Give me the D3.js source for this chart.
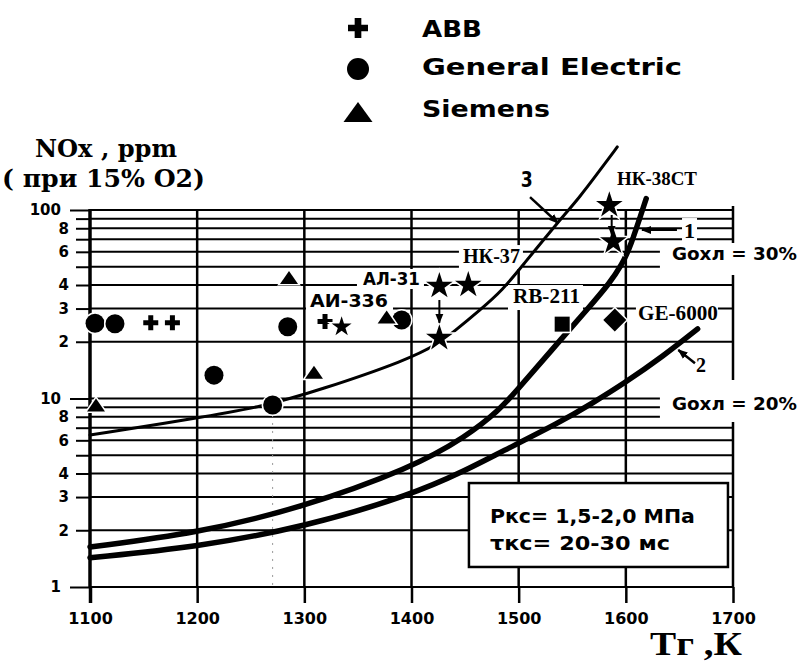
<!DOCTYPE html>
<html>
<head>
<meta charset="utf-8">
<script src="https://cdn.jsdelivr.net/npm/d3@7"></script>
<style>
  body { margin: 0; background: #fff; }
  svg { display: block; }
</style>
</head>
<body>
<div id="chart"></div>
<script>
// ---- data ----
const xTickValues = [1100, 1200, 1300, 1400, 1500, 1600, 1700];
const yGridValues = [1, 2, 3, 4, 5, 6, 7, 8, 9, 10, 20, 30, 40, 50, 60, 70, 80, 90, 100];
const yTickLabels = ['1', '2', '3', '4', '', '6', '', '8', '', '10', '2', '3', '4', '', '6', '', '8', '', '100'];

// manufacturers (legend)
const abbT = [1156.7, 1176.9, 1319.3];
const abbNOx = [25.2, 25.2, 25.6];
const geT = [1104.7, 1123.3, 1215.7, 1270.4, 1284.5, 1390.8];
const geNOx = [25.1, 24.9, 13.3, 9.24, 24.0, 26.1];
const siemensT = [1105.6, 1285.7, 1309, 1376.8];
const siemensNOx = [9.24, 43.8, 13.8, 27.1];

// named engines (stars, square, diamond)
const starT = [1334.8, 1426, 1426, 1453, 1584.6, 1588.3];
const starNOx = [24.0, 39.5, 20.9, 40.0, 106, 67.9];
const starBig = [false, true, true, true, true, true];
const rb211T = [1540.6], rb211NOx = [24.8];
const ge6000T = [1589.7], ge6000NOx = [26.1];

// curves 1, 2, 3
const curve1T = [1100, 1200, 1296, 1400, 1451, 1482, 1498, 1529, 1566, 1585, 1596, 1604, 1619];
const curve1NOx = [1.63, 1.93, 2.62, 4.28, 6.27, 8.69, 11.0, 17.6, 30.6, 41, 51, 63, 115];
const curve2T = [1100, 1200, 1300, 1400, 1451, 1483, 1539, 1569, 1599, 1635, 1667];
const curve2NOx = [1.43, 1.63, 2.08, 3.08, 4.17, 5.19, 7.5, 9.47, 12.1, 16.8, 23.4];
const curve3T = [1100, 1200, 1260, 1315, 1396, 1425, 1439, 1464, 1485, 1504, 1536, 1557, 1576, 1592];
const curve3NOx = [6.40, 7.88, 9.02, 11.1, 16.0, 19.5, 22.5, 29.5, 37.6, 51.1, 85.3, 117, 163, 216];

// ---- canvas ----
const W = 801, H = 661;
const sans = 'DejaVu Sans, sans-serif';
const serif = 'Liberation Serif, serif';

const x = d3.scaleLinear().domain([1100, 1700]).range([90, 733]);
const y = d3.scaleLog().domain([1, 100]).range([587, 210]);

const svg = d3.select('#chart').append('svg')
    .attr('width', W).attr('height', H)
    .style('background', '#fff');

const defs = svg.append('defs');
defs.append('marker').attr('id', 'head')
    .attr('viewBox', '0 0 10 10').attr('refX', 9).attr('refY', 5)
    .attr('markerWidth', 10).attr('markerHeight', 10)
    .attr('markerUnits', 'userSpaceOnUse').attr('orient', 'auto')
    .append('path').attr('d', 'M0,1L10,5L0,9Z').attr('fill', '#000');

const gGrid = svg.append('g');
const gBg = svg.append('g');
const gCurve = svg.append('g');
const gMark = svg.append('g');
const gText = svg.append('g');

// horizontal grid
gGrid.selectAll('line.h').data(yGridValues).join('line')
    .attr('class', 'h')
    .attr('x1', x(1100)).attr('x2', x(1700))
    .attr('y1', d => y(d)).attr('y2', d => y(d))
    .attr('stroke', '#000').attr('stroke-width', 2);

// vertical grid
gGrid.selectAll('line.v').data(xTickValues).join('line')
    .attr('class', 'v')
    .attr('x1', d => x(d)).attr('x2', d => x(d))
    .attr('y1', d => d === 1700 ? y(100) - 4 : y(100) - 1)
    .attr('y2', y(1))
    .attr('stroke', '#000')
    .attr('stroke-width', d => d === 1100 ? 3.5 : 2.5);

// x axis ticks + labels
const xAxis = d3.axisBottom(x).tickValues(xTickValues).tickSize(16).tickPadding(10)
    .tickFormat(d3.format('d'));
gGrid.append('g').attr('transform', `translate(0,${y(1)})`).call(xAxis)
    .attr('font-family', sans).attr('font-size', 16).attr('font-weight', 'bold')
    .call(g => g.select('.domain').remove())
    .call(g => g.selectAll('line').attr('stroke', '#000').attr('stroke-width', d => d === 1100 ? 3.5 : 2.5))
    .call(g => g.selectAll('text').attr('fill', '#000'));

// y axis ticks + labels
const majors = [1, 10, 100];
const yAxis = d3.axisLeft(y).tickValues(yGridValues).tickSize(14).tickPadding(7)
    .tickFormat((d, i) => yTickLabels[i]);
gGrid.append('g').attr('transform', `translate(${x(1100)},0)`).call(yAxis)
    .attr('font-family', sans).attr('font-size', 15).attr('font-weight', 'bold')
    .call(g => g.select('.domain').remove())
    .call(g => g.selectAll('line').attr('stroke', '#000').attr('stroke-width', 2)
        .attr('x2', d => majors.includes(d) ? -20 : -14))
    .call(g => g.selectAll('text').attr('fill', '#000')
        .attr('x', d => majors.includes(d) ? -29 : -21));

// faint drop line under the GE point at ~1270 K
gGrid.append('line')
    .attr('x1', x(geT[3])).attr('x2', x(geT[3]))
    .attr('y1', y(geNOx[3]) + 10).attr('y2', y(1))
    .attr('stroke', '#999').attr('stroke-width', 1).attr('stroke-dasharray', '2,6');

// ---- curves ----
const line = d3.line().x(d => x(d[0])).y(d => y(d[1])).curve(d3.curveBasis);
const curves = [
    { t: curve1T, v: curve1NOx, w: 5.5 },
    { t: curve2T, v: curve2NOx, w: 5.5 },
    { t: curve3T, v: curve3NOx, w: 3 }
];
curves.forEach(c => {
    gCurve.append('path')
        .datum(d3.zip(c.t, c.v))
        .attr('d', line)
        .attr('fill', 'none').attr('stroke', '#000')
        .attr('stroke-width', c.w).attr('stroke-linecap', 'round');
});

// ---- markers ----
const tri = (w, h) => `M0,${-h / 2}L${w / 2},${h / 2}L${-w / 2},${h / 2}Z`;
const halo = sel => sel.attr('fill', '#000').attr('stroke', '#fff')
    .attr('stroke-width', 3).style('paint-order', 'stroke');

gMark.selectAll('path.abb').data(d3.zip(abbT, abbNOx)).join('path')
    .attr('class', 'abb')
    .attr('d', d3.symbol(d3.symbolCross, 125))
    .attr('transform', d => `translate(${x(d[0])},${y(d[1])})`)
    .call(halo);

gMark.selectAll('circle.ge').data(d3.zip(geT, geNOx)).join('circle')
    .attr('class', 'ge')
    .attr('cx', d => x(d[0])).attr('cy', d => y(d[1])).attr('r', 9.5)
    .call(halo);

gMark.selectAll('path.siemens').data(d3.zip(siemensT, siemensNOx)).join('path')
    .attr('class', 'siemens')
    .attr('d', tri(18, 13))
    .attr('transform', d => `translate(${x(d[0])},${y(d[1])})`)
    .call(halo);

gMark.selectAll('path.star').data(d3.zip(starT, starNOx, starBig)).join('path')
    .attr('class', 'star')
    .attr('d', d => d3.symbol(d3.symbolStar, d[2] ? 220 : 124)())
    .attr('transform', d => `translate(${x(d[0])},${y(d[1])})`)
    .call(halo);

gMark.selectAll('path.rb').data(d3.zip(rb211T, rb211NOx)).join('path')
    .attr('d', d3.symbol(d3.symbolSquare, 225))
    .attr('transform', d => `translate(${x(d[0])},${y(d[1])})`)
    .call(halo);

gMark.selectAll('path.ge6000').data(d3.zip(ge6000T, ge6000NOx)).join('path')
    .attr('d', d3.symbol(d3.symbolSquare, 265))
    .attr('transform', d => `translate(${x(d[0])},${y(d[1])}) rotate(45)`)
    .call(halo);

// arrows (data-space anchors)
function arrow(t1, v1, t2, v2, w) {
    gMark.append('line')
        .attr('x1', x(t1)).attr('y1', y(v1)).attr('x2', x(t2)).attr('y2', y(v2))
        .attr('stroke', '#000').attr('stroke-width', w || 2)
        .attr('marker-end', 'url(#head)');
}
arrow(1510.6, 117, 1536.7, 85.3, 2.5);   // 3
arrow(1647.7, 78.3, 1615.1, 78.3, 2);    // 1
arrow(1664.5, 15.4, 1649, 18.1, 2.5);    // 2
arrow(1426, 33.3, 1426, 25.2, 2);        // АЛ-31 -> lower star
arrow(1586.8, 94.1, 1586.8, 74, 2);      // НК-38СТ

// ---- labels ----
function addLabel(txt, t, v, cfg) {
    const el = gText.append('text')
        .attr('x', x(t)).attr('y', y(v))
        .attr('font-family', cfg.font || sans)
        .attr('font-weight', 'bold')
        .attr('font-size', cfg.size)
        .attr('text-anchor', cfg.anchor || 'start')
        .attr('fill', '#000')
        .text(txt);
    if (cfg.len) el.attr('textLength', cfg.len).attr('lengthAdjust', 'spacingAndGlyphs');
    if (cfg.pad) {
        const b = el.node().getBBox(), p = cfg.pad;
        const x0 = b.x - p[3];
        const wd = cfg.toEdge ? W - x0 : b.width + p[1] + p[3];
        gBg.append('rect')
            .attr('x', x0).attr('y', b.y - p[0])
            .attr('width', wd).attr('height', b.height + p[0] + p[2])
            .attr('fill', '#fff');
    }
    return el;
}

addLabel('3', 1507.5, 133, { size: 21, anchor: 'middle', len: 12 });
addLabel('НК-38СТ', 1591.7, 135.7, { font: serif, size: 18, len: 80 });
addLabel('НК-37', 1448, 52.3, { font: serif, size: 20, len: 57, pad: [0, 3, 2, 4] });
addLabel('АЛ-31', 1354.7, 40.0, { size: 17, len: 57, pad: [0, 4, 0, 6] });
addLabel('АИ-336', 1305.3, 30.7, { size: 18, len: 78, pad: [0, 5, 0, 4] });
addLabel('RB-211', 1494.7, 32.1, { font: serif, size: 20, len: 67, pad: [0, 3, 3, 5] });
addLabel('GE-6000', 1611.3, 26.1, { font: serif, size: 20, len: 80, pad: [2, 0, 0, 2] });
addLabel('1', 1654.3, 71.0, { font: serif, size: 22, pad: [0, 2, 0, 2] });
addLabel('2', 1665.5, 13.8, { font: serif, size: 20 });
addLabel('Gохл = 30%', 1643, 54.3, { size: 17, len: 125, pad: [1, 0, 11, 12], toEdge: true });
addLabel('Gохл = 20%', 1643, 8.69, { size: 17, len: 125, pad: [14, 0, 8, 12], toEdge: true });

// conditions box
gText.append('rect')
    .attr('x', x(1453.6)).attr('y', y(3.56))
    .attr('width', x(1695.3) - x(1453.6)).attr('height', y(1.277) - y(3.56))
    .attr('fill', '#fff').attr('stroke', '#000').attr('stroke-width', 2.5);
addLabel('Pкс= 1,5-2,0 МПа', 1473.2, 2.186, { size: 20, len: 205 });
addLabel('τкс= 20-30 мс', 1473.2, 1.572, { size: 20, len: 180 });

// axis titles
const titles = svg.append('g').attr('font-weight', 'bold').attr('fill', '#000');
titles.append('text').attr('x', 35).attr('y', 157)
    .attr('font-family', 'DejaVu Serif, serif').attr('font-size', 24)
    .attr('textLength', 142).attr('lengthAdjust', 'spacingAndGlyphs')
    .text('NOx , ppm');
titles.append('text').attr('x', 2).attr('y', 187)
    .attr('font-family', 'DejaVu Serif, serif').attr('font-size', 24)
    .attr('textLength', 203).attr('lengthAdjust', 'spacingAndGlyphs')
    .text('( при 15% О2)');
titles.append('text').attr('x', 650).attr('y', 655)
    .attr('font-family', serif).attr('font-size', 34)
    .attr('textLength', 92).attr('lengthAdjust', 'spacingAndGlyphs')
    .text('Тг ,К');

// ---- legend ----
const legendNames = ['ABB', 'General Electric', 'Siemens'];
const legendY = [28, 69, 112];
const legendTextY = [36.7, 75, 116.7];
const legendLen = [60, 260, 128];
const lg = svg.append('g');
lg.append('path').attr('d', d3.symbol(d3.symbolCross, 222))
    .attr('transform', `translate(358,${legendY[0]})`).attr('fill', '#000');
lg.append('circle').attr('cx', 358).attr('cy', legendY[1]).attr('r', 11).attr('fill', '#000');
lg.append('path').attr('d', tri(29, 20))
    .attr('transform', `translate(358,${legendY[2]})`).attr('fill', '#000');
lg.selectAll('text').data(legendNames).join('text')
    .attr('x', 422).attr('y', (d, i) => legendTextY[i])
    .attr('font-family', sans).attr('font-weight', 'bold').attr('font-size', 23)
    .attr('textLength', (d, i) => legendLen[i]).attr('lengthAdjust', 'spacingAndGlyphs')
    .attr('fill', '#000')
    .text(d => d);
</script>
</body>
</html>
